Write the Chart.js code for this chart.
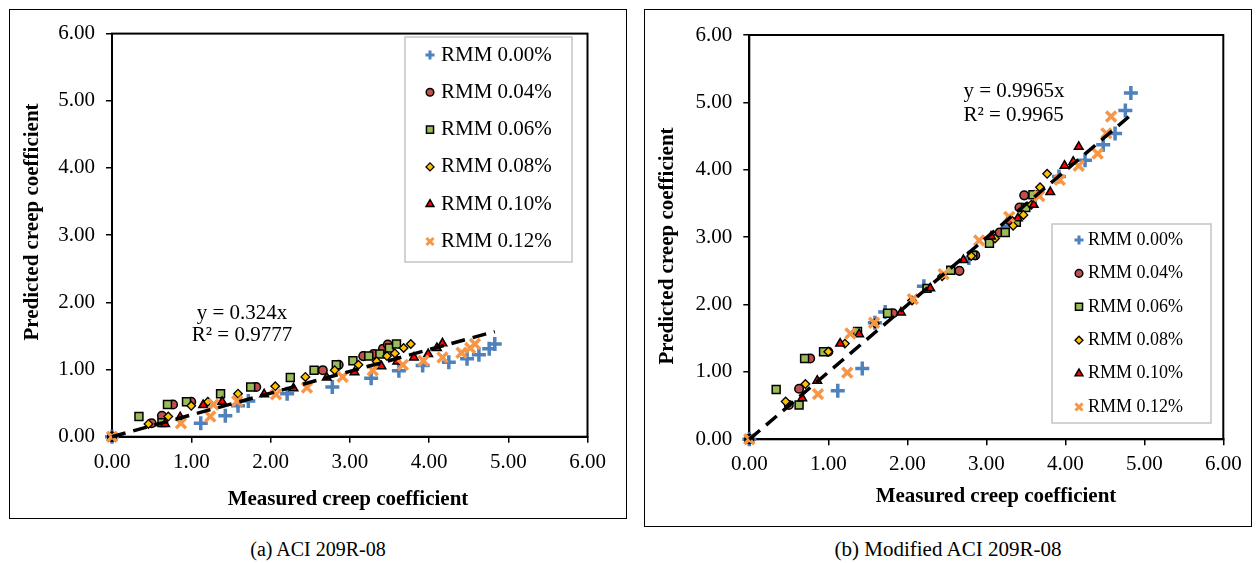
<!DOCTYPE html>
<html>
<head>
<meta charset="utf-8">
<script src="https://cdn.jsdelivr.net/npm/chart.js@4.4.1/dist/chart.umd.min.js"></script>
<style>
  body { margin: 0; background: #fff; width: 1257px; height: 563px; position: relative; font-family: 'Liberation Serif', 'Times New Roman', serif; }
  .panel { position: absolute; border: 1px solid #000; background: #fff; }
  .panel canvas { display: block; }
  .caption { position: absolute; top: 538px; text-align: center; color: #000; line-height: 22px; }
</style>
</head>
<body>
<div class="panel" style="left:9px;top:9px;width:616px;height:508px;"><canvas id="chartA" width="616" height="508" style="width:616px;height:508px"></canvas></div>
<div class="panel" style="left:644px;top:9px;width:606px;height:516px;"><canvas id="chartB" width="606" height="516" style="width:606px;height:516px"></canvas></div>
<div class="caption" style="left:9px;width:618px;font-size:20px;">(a) ACI 209R-08</div>
<div class="caption" style="left:644px;width:608px;font-size:21px;">(b) Modified ACI 209R-08</div>
<script>
// series names
const seriesLabels = ['RMM 0.00%', 'RMM 0.04%', 'RMM 0.06%', 'RMM 0.08%', 'RMM 0.10%', 'RMM 0.12%'];
const tickLabels = ['0.00', '1.00', '2.00', '3.00', '4.00', '5.00', '6.00'];

// measured creep coefficient (x), same for both panels
const measured00 = [0, 1.12, 1.43, 1.59, 1.72, 2.21, 2.78, 3.27, 3.62, 3.92, 4.25, 4.48, 4.63, 4.76, 4.83];
const measured04 = [0, 0.50, 0.63, 0.77, 1.00, 1.82, 2.66, 2.86, 3.17, 3.30, 3.42, 3.48];
const measured06 = [0, 0.34, 0.63, 0.70, 0.94, 1.37, 1.75, 2.25, 2.55, 2.83, 3.04, 3.24, 3.38, 3.50, 3.59];
const measured08 = [0, 0.46, 0.71, 1.00, 1.21, 1.59, 2.06, 2.44, 2.81, 3.11, 3.34, 3.47, 3.57, 3.68, 3.77];
const measured10 = [0, 0.67, 0.86, 1.15, 1.39, 1.92, 2.29, 2.71, 3.06, 3.40, 3.60, 3.81, 3.99, 4.10, 4.17];
const measured12 = [0, 0.87, 1.24, 1.28, 1.58, 2.07, 2.46, 2.91, 3.29, 3.67, 3.93, 4.17, 4.41, 4.52, 4.58];

// (a) ACI 209R-08 predicted
const aci00 = [0, 0.20, 0.31, 0.46, 0.53, 0.64, 0.74, 0.87, 0.98, 1.06, 1.11, 1.16, 1.22, 1.31, 1.38];
const aci04 = [0, 0.20, 0.31, 0.48, 0.52, 0.74, 0.99, 1.07, 1.20, 1.23, 1.31, 1.37];
const aci06 = [0, 0.30, 0.21, 0.48, 0.52, 0.64, 0.74, 0.88, 0.99, 1.07, 1.13, 1.20, 1.23, 1.32, 1.38];
const aci08 = [0, 0.19, 0.30, 0.46, 0.52, 0.64, 0.75, 0.89, 0.99, 1.07, 1.12, 1.20, 1.24, 1.32, 1.38];
const aci10 = [0, 0.19, 0.29, 0.47, 0.52, 0.63, 0.72, 0.88, 0.96, 1.05, 1.12, 1.18, 1.23, 1.32, 1.39];
const aci12 = [0, 0.20, 0.30, 0.48, 0.53, 0.63, 0.73, 0.89, 0.99, 1.07, 1.13, 1.18, 1.25, 1.32, 1.38];

// (b) Modified ACI 209R-08 predicted
const mod00 = [0, 0.72, 1.05, 1.73, 1.89, 2.27, 2.69, 3.16, 3.60, 3.90, 4.14, 4.37, 4.54, 4.88, 5.14];
const mod04 = [0, 0.51, 0.75, 1.20, 1.30, 1.87, 2.50, 2.73, 3.07, 3.25, 3.44, 3.62];
const mod06 = [0, 0.74, 0.51, 1.20, 1.30, 1.60, 1.87, 2.24, 2.51, 2.73, 2.91, 3.07, 3.22, 3.44, 3.63];
const mod08 = [0, 0.56, 0.82, 1.30, 1.42, 1.72, 2.06, 2.42, 2.72, 2.98, 3.17, 3.33, 3.48, 3.74, 3.94];
const mod10 = [0, 0.61, 0.87, 1.42, 1.56, 1.88, 2.24, 2.66, 3.01, 3.28, 3.48, 3.67, 4.06, 4.12, 4.34];
const mod12 = [0, 0.67, 0.99, 1.57, 1.73, 2.08, 2.45, 2.95, 3.30, 3.61, 3.85, 4.06, 4.24, 4.54, 4.79];

// linear trend (through origin) from the original charts
const slopeA = 0.324, r2A = '0.9777';
const slopeB = 0.9965, r2B = '0.9965';

const measured = [measured00, measured04, measured06, measured08, measured10, measured12];
const aciPred = [aci00, aci04, aci06, aci08, aci10, aci12];
const modPred = [mod00, mod04, mod06, mod08, mod10, mod12];

// marker look per series (Excel style)
const markers = [
  { pointStyle: 'cross',    backgroundColor: '#4F81BD', borderColor: '#4F81BD', pointRadius: 7,   pointBorderWidth: 3.5, legendRadius: 4.5, legendWidth: 3 },
  { pointStyle: 'circle',   backgroundColor: '#C0504D', borderColor: '#000',    pointRadius: 4.3, pointBorderWidth: 1.5, legendRadius: 3.8, legendWidth: 1.5 },
  { pointStyle: 'rect',     backgroundColor: '#9BBB59', borderColor: '#000',    pointRadius: 5.6, pointBorderWidth: 1.5, legendRadius: 5,   legendWidth: 1.5 },
  { pointStyle: 'rectRot',  backgroundColor: '#FFC000', borderColor: '#000',    pointRadius: 4.3, pointBorderWidth: 1.3, legendRadius: 4,   legendWidth: 1.3 },
  { pointStyle: 'triangle', backgroundColor: '#FF0000', borderColor: '#000',    pointRadius: 5,   pointBorderWidth: 1.5, legendRadius: 4.5, legendWidth: 1.5 },
  { pointStyle: 'crossRot', backgroundColor: '#F79646', borderColor: '#F79646', pointRadius: 7,   pointBorderWidth: 3.5, legendRadius: 5,   legendWidth: 3 }
];

const serif = 'Liberation Serif';

// black box around the plot area
const plotFrame = {
  id: 'plotFrame',
  beforeDatasetsDraw(chart) {
    const { ctx, chartArea: a } = chart;
    ctx.save();
    ctx.strokeStyle = '#000';
    ctx.lineWidth = 2;
    ctx.strokeRect(a.left, a.top, a.right - a.left, a.bottom - a.top);
    ctx.restore();
  }
};

// axis titles placed by hand (space is reserved by afterFit)
const axisTitles = {
  id: 'axisTitles',
  afterDraw(chart, args, o) {
    if (!o.x) return;
    const ctx = chart.ctx;
    ctx.save();
    ctx.font = 'bold 21px "' + serif + '"';
    ctx.fillStyle = '#000';
    ctx.textAlign = 'center';
    ctx.textBaseline = 'middle';
    ctx.fillText('Measured creep coefficient', o.x[0], o.x[1]);
    ctx.translate(o.y[0], o.y[1]);
    ctx.rotate(-Math.PI / 2);
    ctx.fillText('Predicted creep coefficient', 0, 0);
    ctx.restore();
  }
};

// trendline equation text, anchored in data units
const eqText = {
  id: 'eqText',
  afterDatasetsDraw(chart, args, o) {
    if (!o.lines) return;
    const { ctx, scales } = chart;
    ctx.save();
    ctx.font = o.size + 'px "' + serif + '"';
    ctx.fillStyle = '#000';
    ctx.textAlign = o.align;
    ctx.textBaseline = 'middle';
    o.lines.forEach((t, i) => {
      ctx.fillText(t, scales.x.getPixelForValue(o.x), scales.y.getPixelForValue(o.y[i]));
    });
    ctx.restore();
  }
};

// framed legend box drawn inside the plot
const boxLegend = {
  id: 'boxLegend',
  afterDraw(chart, args, o) {
    if (!o.width) return;
    const ctx = chart.ctx;
    ctx.save();
    ctx.fillStyle = '#fff';
    ctx.fillRect(o.left, o.top, o.width, o.height);
    ctx.strokeStyle = '#C4C4C4';
    ctx.lineWidth = 1.5;
    ctx.strokeRect(o.left, o.top, o.width, o.height);
    ctx.font = o.size + 'px "' + serif + '"';
    ctx.textBaseline = 'middle';
    chart.data.datasets.filter(d => !d.trend).forEach((d, i) => {
      const y = o.top + o.firstRow + i * o.rowGap;
      ctx.fillStyle = d.backgroundColor;
      ctx.strokeStyle = d.borderColor;
      ctx.lineWidth = d.legendWidth;
      Chart.helpers.drawPoint(ctx, { pointStyle: d.pointStyle, radius: d.legendRadius, rotation: 0, borderWidth: d.legendWidth }, o.left + o.markerX, y);
      ctx.fillStyle = '#000';
      ctx.fillText(d.label, o.left + o.textX, y);
    });
    ctx.restore();
  }
};

function buildDatasets(pred, slope) {
  const sets = seriesLabels.map((label, i) => Object.assign({
    label,
    data: measured[i].map((x, j) => ({ x, y: pred[i][j] })),
    clip: false,
    order: 6 - i
  }, markers[i]));
  const xMax = Math.max(...measured.flat());
  sets.push({
    label: 'trend',
    trend: true,
    type: 'line',
    data: [{ x: 0, y: 0 }, { x: xMax, y: slope * xMax }],
    borderColor: '#000',
    borderWidth: 3.5,
    borderDash: [14, 8],
    pointRadius: 0,
    clip: false,
    order: 0
  });
  return sets;
}

function axisOptions(s) {
  const common = {
    type: 'linear', min: 0, max: 6,
    grid: { drawOnChartArea: false, drawTicks: true, tickLength: 6, color: '#000', lineWidth: 1.5 },
    border: { display: true, color: '#000', width: 2 }
  };
  return {
    x: Object.assign({}, common, {
      ticks: { stepSize: 1, autoSkip: false, maxRotation: 0, padding: 7, color: '#000',
        font: { family: serif, size: 21 }, callback: (v, i) => tickLabels[i] },
      afterFit: scale => { scale.height = s.xHeight; }
    }),
    y: Object.assign({}, common, {
      ticks: { stepSize: 1, autoSkip: false, padding: 11, color: '#000',
        font: { family: serif, size: 21 }, callback: (v, i) => tickLabels[i] },
      afterFit: scale => { scale.width = s.yWidth; }
    })
  };
}

function makeChart(id, pred, slope, r2, s) {
  return new Chart(document.getElementById(id), {
    type: 'scatter',
    data: { datasets: buildDatasets(pred, slope) },
    options: {
      responsive: false,
      animation: false,
      layout: { padding: { left: 0, top: s.top, right: s.right, bottom: 0 } },
      scales: axisOptions(s),
      plugins: {
        legend: { display: false },
        tooltip: { enabled: false },
        axisTitles: s.titles,
        eqText: { lines: ['y = ' + slope + 'x', 'R\u00B2 = ' + r2], x: s.eqX, y: s.eqY, align: s.eqAlign, size: 21 },
        boxLegend: s.legend
      }
    },
    plugins: [plotFrame, axisTitles, eqText, boxLegend]
  });
}

makeChart('chartA', aciPred, slopeA, r2A, {
  top: 16, right: 38.5, yWidth: 102, xHeight: 81.3,
  titles: { x: [338, 490], y: [23, 212] },
  eqX: 1.64, eqY: [1.83, 1.51], eqAlign: 'center',
  legend: { left: 395, top: 27, width: 167, height: 225, firstRow: 18, rowGap: 37.3, markerX: 25, textX: 36, size: 21 }
});

makeChart('chartB', modPred, slopeB, r2B, {
  top: 25, right: 27.7, yWidth: 104.3, xHeight: 86.7,
  titles: { x: [351, 487], y: [23, 236] },
  eqX: 2.71, eqY: [5.16, 4.81], eqAlign: 'left',
  legend: { left: 407, top: 214, width: 159, height: 199, firstRow: 16, rowGap: 33.4, markerX: 27, textX: 36, size: 18 }
});
</script>
</body>
</html>
